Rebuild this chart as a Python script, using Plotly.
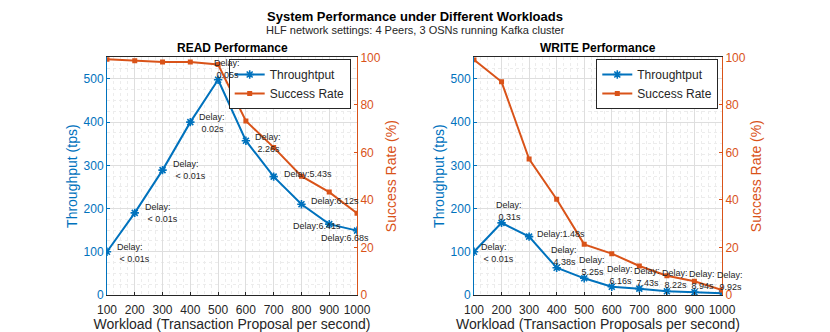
import plotly.graph_objects as go

# ---- data ----
workload = [100, 200, 300, 400, 500, 600, 700, 800, 900, 1000]

read_tput = [100, 190, 289, 400, 498, 357, 274, 210, 164, 149]
read_succ = [99.2, 98.6, 98.0, 98.0, 97.0, 73.2, 62.1, 50.0, 43.3, 34.4]
read_delay = ["Delay:<br> < 0.01s", "Delay:<br> < 0.01s", "Delay:<br> < 0.01s",
              "Delay:<br> 0.02s", "Delay:<br> 0.05s", "Delay:<br> 2.26s",
              "Delay:5.43s", "Delay:6.12s", "Delay:6.41s", "Delay:6.68s"]

write_tput = [100, 167, 135, 63, 38.6, 19, 14.7, 8.5, 6.3, 3.9]
write_succ = [99.0, 89.7, 57.2, 40.3, 21.3, 17.4, 12.2, 8.1, 5.8, 2.1]
write_delay = ["Delay:<br> < 0.01s", "Delay:<br> 0.31s", "Delay:1.48s",
               "Delay:<br> 4.38s", "Delay:<br> 5.25s", "Delay:<br> 6.16s",
               "Delay:<br> 7.43s", "Delay:<br> 8.22s", "Delay:<br> 8.94s",
               "Delay:<br> 9.92s"]

# label offsets in screen px (xshift, yshift) relative to the throughput point
read_shift = [(8, -1), (8, 0), (8, 0), (7, -1), (-6, 11), (7, -2),
              (8, 3), (8, 3), (-38, -2), (-38, -7)]
write_shift = [(5, -1), (-8, 12), (6, 3), (-8, 12), (-7, 12), (-7, 12),
               (-7, 12), (-7, 12), (-7, 12), (-7, 12)]

BLUE = '#0072BD'
ORANGE = '#D95319'
TXT = '#262626'
FONT = 'Liberation Sans, Arial, sans-serif'

# page body adds an 8px offset, so the figure is drawn 8px smaller
W, H = 822, 324

fig = go.Figure()


def add_panel(tput, succ, xa, ya, ya2, leg):
    fig.add_trace(go.Scatter(x=workload, y=tput, mode='lines+markers', name='Throughtput',
                             xaxis=xa, yaxis=ya, legend=leg,
                             line=dict(color=BLUE, width=2),
                             marker=dict(symbol='asterisk-open', size=7,
                                         line=dict(color=BLUE, width=1.6))))
    fig.add_trace(go.Scatter(x=workload, y=succ, mode='lines+markers', name='Success Rate',
                             xaxis=xa, yaxis=ya2, legend=leg,
                             line=dict(color=ORANGE, width=2),
                             marker=dict(symbol='square', size=5, color=ORANGE)))


add_panel(read_tput, read_succ, 'x', 'y', 'y2', 'legend')
add_panel(write_tput, write_succ, 'x2', 'y3', 'y4', 'legend2')

for xs, ys, labels, shifts, xr, yr in [
        (workload, read_tput, read_delay, read_shift, 'x', 'y'),
        (workload, write_tput, write_delay, write_shift, 'x2', 'y3')]:
    for x, y, t, (dx, dy) in zip(xs, ys, labels, shifts):
        fig.add_annotation(x=x, y=y, xref=xr, yref=yr, text=t, showarrow=False,
                           xanchor='left', yanchor='middle', align='left',
                           xshift=dx, yshift=dy,
                           font=dict(size=9, color=TXT, family=FONT))

grid_minor = dict(showgrid=True, griddash='dot', gridcolor='#ececec', gridwidth=1)
YDOM = [0.1142, 0.8478]


def xaxis(domain, anchor, title):
    return dict(domain=domain, anchor=anchor, range=[100, 1000], dtick=100, tick0=100,
                showgrid=True, gridcolor='#dedede', gridwidth=1,
                minor=dict(dtick=25, **grid_minor), showline=True, linecolor='#262626',
                linewidth=1, mirror=True, ticks='inside', ticklen=3, tickcolor='#262626',
                tickfont=dict(size=12, color=TXT), ticklabelstandoff=4,
                title=dict(text=title, font=dict(size=14, color=TXT), standoff=2),
                zeroline=False, automargin=False)


def ylaxis(anchor):
    return dict(domain=YDOM, anchor=anchor, range=[0, 550], dtick=100,
                showgrid=True, gridcolor='#dedede', gridwidth=1,
                minor=dict(dtick=25, **grid_minor),
                showline=True, linecolor=BLUE, linewidth=1, ticks='inside', ticklen=3,
                tickcolor=BLUE, tickfont=dict(size=12, color=BLUE),
                title=dict(text='Throughput (tps)', font=dict(size=14, color=BLUE), standoff=2),
                zeroline=False, automargin=False)


def yraxis(overlay, anchor):
    return dict(overlaying=overlay, anchor=anchor, side='right', range=[0, 100], dtick=20,
                showgrid=False, showline=True, linecolor=ORANGE, linewidth=1,
                ticks='inside', ticklen=3, tickcolor=ORANGE,
                tickfont=dict(size=12, color=ORANGE),
                title=dict(text='Success Rate (%)', font=dict(size=14, color=ORANGE), standoff=6),
                zeroline=False, automargin=False)


legend_style = dict(bgcolor='white', bordercolor='#262626', borderwidth=1,
                    font=dict(size=12, color=TXT, family=FONT), xanchor='right', yanchor='top',
                    tracegroupgap=0, itemwidth=30)

fig.update_layout(
    width=W, height=H,
    margin=dict(l=0, r=0, t=0, b=0, autoexpand=False),
    paper_bgcolor='white', plot_bgcolor='white',
    font=dict(family=FONT, color=TXT),
    xaxis=xaxis([0.1204, 0.4246], 'y', 'Workload (Transaction Proposal per second)'),
    yaxis=ylaxis('x'),
    yaxis2=yraxis('y', 'x'),
    xaxis2=xaxis([0.5669, 0.8686], 'y3', 'Workload (Transaction Proposals per second)'),
    yaxis3=ylaxis('x2'),
    yaxis4=yraxis('y3', 'x2'),
    legend=dict(x=0.4169, y=0.8426, **legend_style),
    legend2=dict(x=0.8641, y=0.8426, **legend_style),
    showlegend=True,
)

# (text, screen x, screen y of box top, size, bold) with the 8px page offset removed
for text, sx, sy, size, bold in [
        ('System Performance under Different Workloads', 415, 8, 13, True),
        ('HLF network settings: 4 Peers, 3 OSNs running Kafka cluster', 415, 23, 11, False),
        ('READ Performance', 232, 40, 12, True),
        ('WRITE Performance', 598, 40, 12, True)]:
    fig.add_annotation(text=f'<b>{text}</b>' if bold else text,
                       x=(sx - 8) / W, y=1 - (sy - 8) / H,
                       xref='paper', yref='paper', showarrow=False,
                       xanchor='center', yanchor='top', borderpad=0,
                       font=dict(size=size, color='black' if bold else TXT, family=FONT))

fig.write_html("out.html")
